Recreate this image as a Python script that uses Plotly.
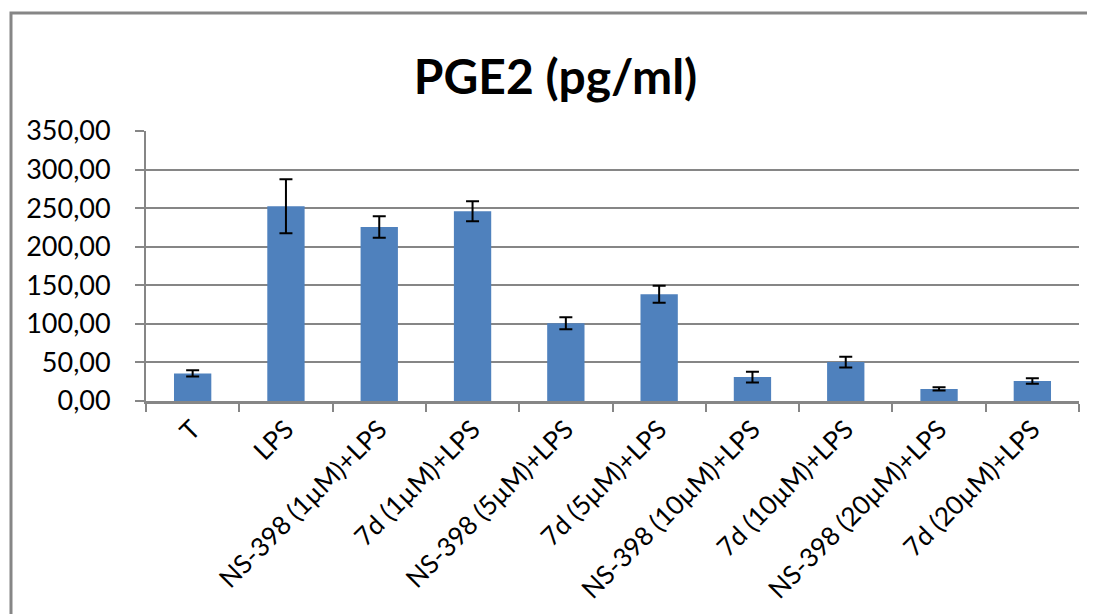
import plotly.graph_objects as go

# PGE2 levels
groups = ["T", "LPS", "NS-398 (1µM)+LPS", "7d (1µM)+LPS", "NS-398 (5µM)+LPS",
          "7d (5µM)+LPS", "NS-398 (10µM)+LPS", "7d (10µM)+LPS",
          "NS-398 (20µM)+LPS", "7d (20µM)+LPS"]
pge2 = [35.8, 252.5, 225.5, 246.0, 100.8, 138.5, 31.0, 50.5, 15.7, 26.0]
pge2_err = [3.9, 35.0, 14.0, 13.0, 7.7, 11.0, 7.0, 7.0, 2.0, 3.5]
y_ticks = [0, 50, 100, 150, 200, 250, 300, 350]

grey = "#868686"
font_name = "Lato, Carlito, Calibri, sans-serif"

fig = go.Figure()
fig.add_trace(go.Bar(
    x=groups, y=pge2,
    marker=dict(color="#4F81BD", line=dict(width=0)),
    error_y=dict(type="data", array=pge2_err, visible=True,
                 color="black", thickness=2, width=6.5),
))

# outer chart frame like the Excel chart area
fig.add_shape(type="rect", xref="paper", yref="paper",
              x0=-0.1447, x1=1.0129, y0=-0.95, y1=1.437,
              line=dict(color=grey, width=3), layer="below")

fig.update_layout(
    width=1095, height=614,
    margin=dict(l=138, r=24, t=123, b=221, autoexpand=False),
    paper_bgcolor="white", plot_bgcolor="white",
    separators=",.",
    showlegend=False,
    bargap=0.6,
    font=dict(family=font_name, color="black"),
    title=dict(text="<b>PGE2 (pg/ml)</b>", x=0.5, xanchor="center",
               y=0.888, yanchor="middle",
               font=dict(family=font_name, size=48, color="black")),
    xaxis=dict(
        automargin=False,
        tickangle=-45, tickfont=dict(size=26, color="black"),
        showline=True, linecolor=grey, linewidth=3,
        ticks="outside", ticklen=8, tickcolor=grey, tickwidth=2,
        tickson="boundaries", showgrid=False,
    ),
    yaxis=dict(
        automargin=False,
        range=[0, 350], tickvals=y_ticks, tickformat=".2f",
        tickfont=dict(size=27, color="black"),
        showline=True, linecolor=grey, linewidth=2,
        ticks="outside", ticklen=9, tickcolor=grey, tickwidth=2,
        ticklabelstandoff=19,
        showgrid=True, gridcolor=grey, gridwidth=1.5,
        zeroline=False,
    ),
)

fig.write_html("out.html")
